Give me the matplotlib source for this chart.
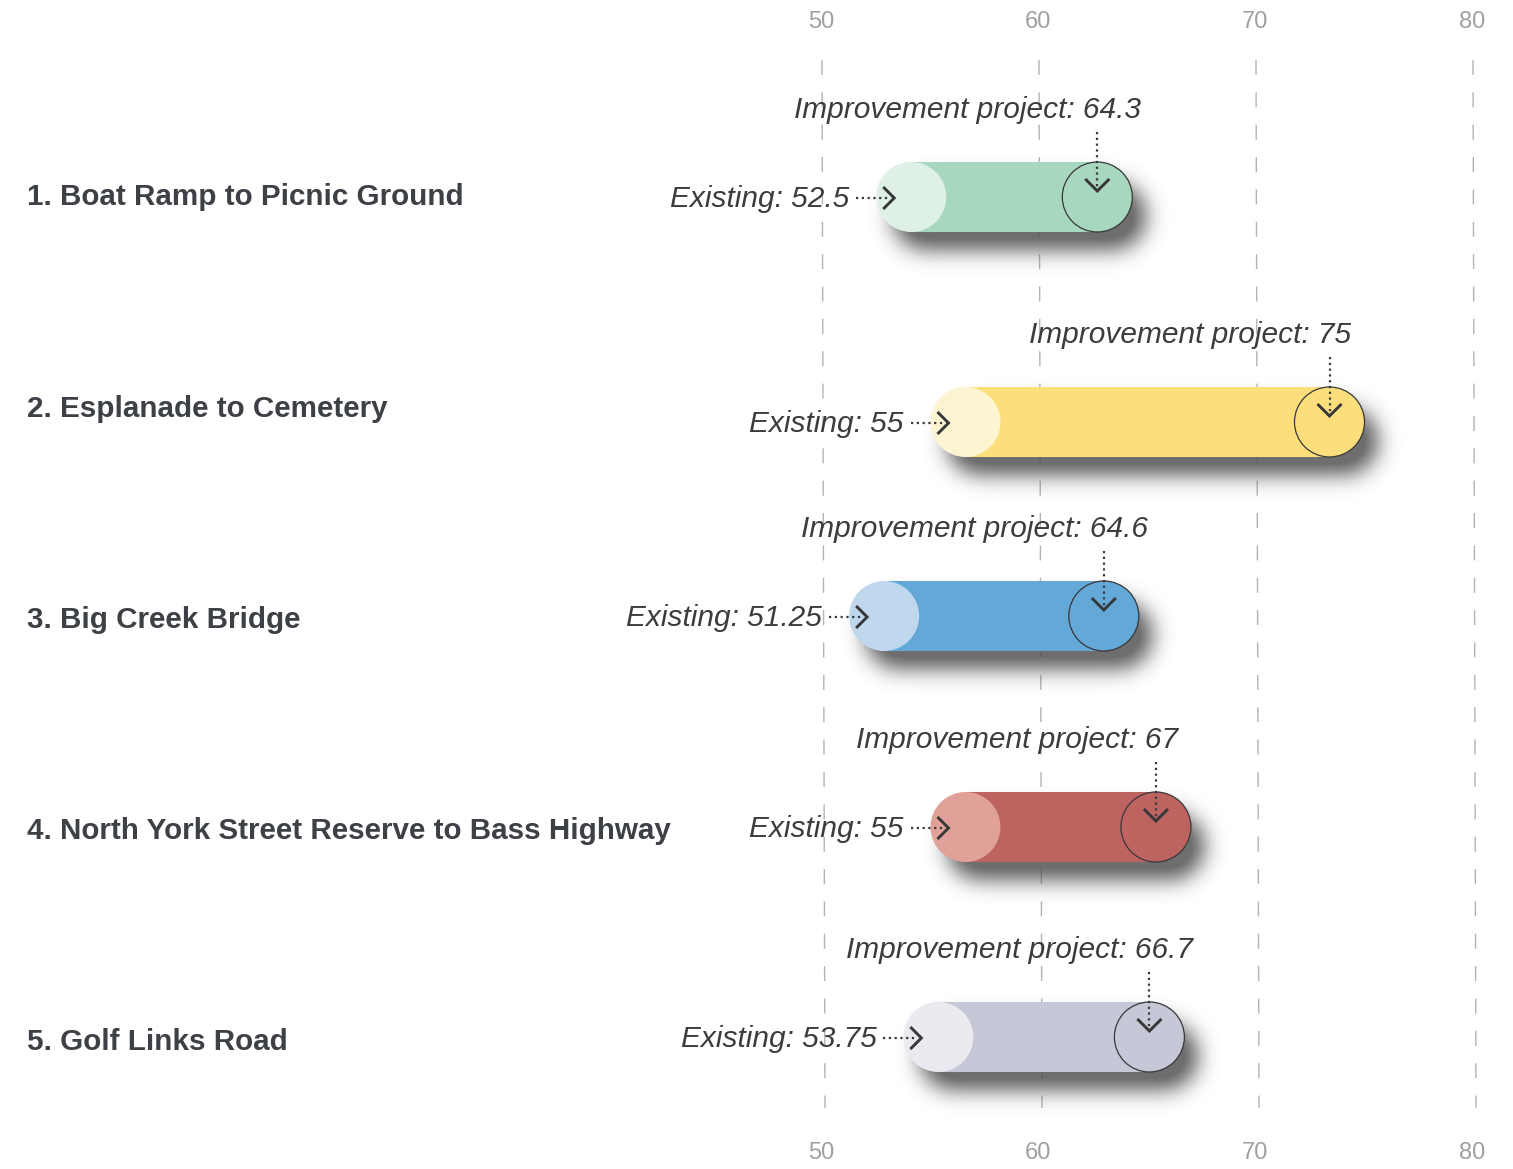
import numpy as np
import matplotlib
matplotlib.use("Agg")
import matplotlib.pyplot as plt
from matplotlib.patches import Rectangle, Ellipse

plt.rcParams['font.family'] = ['Liberation Sans', 'DejaVu Sans']

# ---------------- data ----------------
routes = ["1. Boat Ramp to Picnic Ground",
          "2. Esplanade to Cemetery",
          "3. Big Creek Bridge",
          "4. North York Street Reserve to Bass Highway",
          "5. Golf Links Road"]
existing = [52.5, 55, 51.25, 55, 53.75]
improvement = [64.3, 75, 64.6, 67, 66.7]
existing_labels = ["52.5", "55", "51.25", "55", "53.75"]
improvement_labels = ["64.3", "75", "64.6", "67", "66.7"]
ticks = [50, 60, 70, 80]

main_colors = ["#a7d7bf", "#fcdf7c", "#64a8d7", "#bd6461", "#c6c8d7"]
light_colors = ["#dff0e6", "#fdf5d2", "#c0d8ee", "#e0a198", "#eaeaf0"]

# ---------------- layout ----------------
W, H = 1513, 1169
bar_y = [197, 422, 616, 827, 1037]
label_y = [197, 409, 620, 831, 1042]
R = 35          # capsule radius in px
PPU = 21.7      # pixels per unit
X50 = 822       # pixel position of value 50

fig = plt.figure(figsize=(W / 100, H / 100), dpi=100)
ax = fig.add_axes([0, 0, 1, 1])
xmin = 50 - X50 / PPU
xmax = 50 + (W - X50) / PPU
ax.set_xlim(xmin, xmax)
ax.set_ylim(H, 0)
ax.axis('off')


def px(n):
    return n / PPU


# gridlines and tick labels
for t in ticks:
    ax.plot([t, t + px(3)], [60, 1108], color='#b3b3b3', lw=1,
            ls=(0, (10.8, 12.5)), zorder=1)
    ax.text(t - px(1), 22, str(t), ha='center', va='center', fontsize=17,
            color='#a0a0a0')
    ax.text(t - px(1), 1153, str(t), ha='center', va='center', fontsize=17,
            color='#a0a0a0')

# shadow (blurred capsule masks)
dx, dy, sigma = 15, 19, 10.5
yy, xx = np.mgrid[0:H, 0:W].astype(float)
yy += 0.5
xx += 0.5
mask = np.zeros((H, W))
for e, v, yc in zip(existing, improvement, bar_y):
    x0 = (e - xmin) * PPU + R + dx
    x1 = (v - xmin) * PPU - R + dx
    cy = yc + dy
    cx = np.clip(xx, x0, x1)
    d = np.hypot(xx - cx, yy - cy)
    mask = np.maximum(mask, (d <= R - 1).astype(float))


def blur(a, s):
    r = int(3 * s)
    k = np.exp(-0.5 * (np.arange(-r, r + 1) / s) ** 2)
    k /= k.sum()
    p = np.pad(a, ((0, 0), (r, r)))
    out = np.zeros_like(a)
    for i in range(2 * r + 1):
        out += k[i] * p[:, i:i + a.shape[1]]
    p = np.pad(out, ((r, r), (0, 0)))
    out2 = np.zeros_like(a)
    for i in range(2 * r + 1):
        out2 += k[i] * p[i:i + a.shape[0], :]
    return out2


sh = blur(mask, sigma)
rgba = np.zeros((H, W, 4))
rgba[..., :3] = 0.33
rgba[..., 3] = 0.85 * np.clip(sh * 1.15, 0, 1)
ax.imshow(rgba, extent=(xmin, xmax, H, 0), origin='upper', aspect='auto',
          zorder=2, interpolation='bilinear')
ax.set_xlim(xmin, xmax)
ax.set_ylim(H, 0)

rx = px(R)
ink = '#383838'
for i in range(len(routes)):
    l, r, yc = existing[i], improvement[i], bar_y[i]
    mc, lc = main_colors[i], light_colors[i]
    ax.add_patch(Rectangle((l + rx, yc - R), (r - l) - 2 * rx, 2 * R,
                           fc=mc, ec='none', zorder=3))
    ax.add_patch(Ellipse((r - rx, yc), 2 * rx, 2 * R, fc=mc, ec=ink,
                         lw=0.9, zorder=4))
    ax.add_patch(Ellipse((l + rx, yc), 2 * rx, 2 * R, fc=lc, ec='none',
                         zorder=4))

    # existing arrow
    tip = l + px(18)
    ay = yc + 1
    ax.plot([tip - px(38), tip - px(4)], [ay, ay], color=ink, lw=1.6,
            ls=(0, (1, 1.6)), zorder=5)
    ax.plot([tip - px(10), tip, tip - px(10)], [ay - 10, ay, ay + 10],
            color=ink, lw=2.1, zorder=5, solid_joinstyle='miter')
    ax.text(tip - px(45), yc + 2, f"Existing: {existing_labels[i]}",
            ha='right', va='center', fontsize=21.5, style='italic',
            color='#3c3c3c', zorder=6)

    # improvement arrow
    axp = r - rx
    ty = yc - 6
    ax.plot([axp, axp], [yc - 65, ty - 3], color=ink, lw=1.6,
            ls=(0, (1, 1.6)), zorder=5)
    ax.plot([axp - px(11), axp, axp + px(11)], [ty - 11, ty, ty - 11],
            color=ink, lw=2.1, zorder=5, solid_joinstyle='miter')
    s = improvement_labels[i]
    ax.text(axp + px(22 + 11 * (len(s) - 2)), yc - 87,
            f"Improvement project: {s}", ha='right', va='center',
            fontsize=21.5, style='italic', color='#3c3c3c', zorder=6)

    # route label
    ax.text(xmin + px(27), label_y[i], routes[i], ha='left', va='center',
            fontsize=21.3, fontweight='bold', color='#3d4146', zorder=6)

fig.savefig("out.png", dpi=100)
